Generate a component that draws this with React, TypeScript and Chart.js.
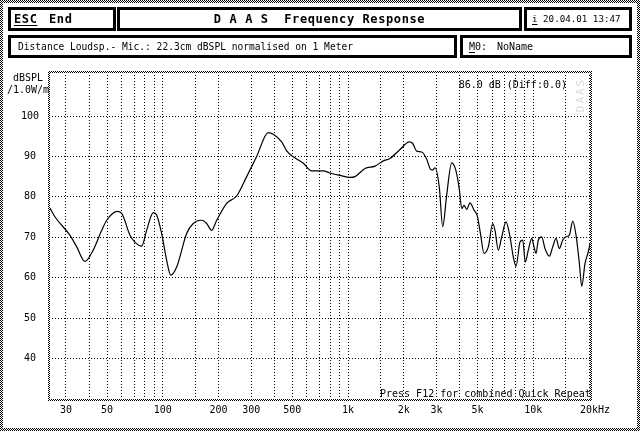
import React, { useEffect, useRef } from 'react';
import { Chart, registerables } from 'chart.js';

Chart.register(...registerables);

// Measured response: frequency (Hz) and level (dBSPL /1.0W/m)
const freqHz = [
  24.6, 26.2, 31.5, 34.3, 38.0, 42.1, 46.8, 49.8, 56.8, 60.0,
  66.5, 70.7, 76.9, 81.8, 88.8, 92.6, 98.6, 104.9, 110.3, 118.8,
  134.5, 146.0, 162.1, 172.5, 183.5, 195.4, 221.2, 250.5, 283.7, 321.2,
  371.0, 394.8, 438.3, 466.5, 506.2, 573.4, 636.6, 735.1, 799, 904.6,
  1025, 1090, 1235, 1398, 1550, 1685, 1908, 2142, 2235, 2349,
  2500, 2660, 2770, 2860, 2948, 3111, 3244, 3410, 3628, 3828,
  3989, 4110, 4229, 4373, 4556, 4788, 4989, 5203, 5421, 5718,
  6040, 6215, 6475, 6756, 7126, 7489, 7803, 8070, 8482, 8772,
  9060, 9404, 9810, 10095, 10350, 10650, 11110, 11570, 12210, 12740,
  13270, 13830, 14430, 15030, 15660, 16340, 17020, 17740, 18270, 19030,
  19830, 20250,
];
const levelDb = [
  77.2, 75.0, 70.5, 67.6, 64.0, 66.8, 71.7, 74.2, 76.4, 75.9,
  70.5, 68.8, 67.8, 71.7, 76.1, 75.5, 70.9, 64.3, 60.6, 62.6,
  70.9, 73.4, 74.2, 73.4, 71.7, 74.2, 78.4, 80.2, 85.0, 90.0,
  95.9, 95.5, 93.6, 91.4, 89.9, 88.3, 86.4, 86.4, 85.9, 85.3,
  84.8, 85.0, 87.0, 87.6, 88.9, 89.5, 91.7, 93.6, 93.2, 91.3,
  91.1, 89.3, 87.0, 86.6, 87.2, 82.3, 72.6, 80.5, 88.4, 86.4,
  81.8, 77.1, 77.9, 76.9, 78.5, 76.7, 75.3, 70.5, 66.0, 67.6,
  73.4, 71.7, 66.8, 70.1, 73.8, 70.1, 65.1, 62.8, 68.8, 69.3,
  63.9, 66.8, 69.7, 67.6, 66.0, 69.3, 70.1, 67.2, 65.3, 67.6,
  69.7, 67.2, 69.3, 70.1, 70.5, 74.0, 70.5, 63.5, 57.8, 63.5,
  66.4, 68.4,
];

const xGridHz = [
  30, 40, 50, 60, 70, 80, 90, 100, 150, 200, 300, 400, 500, 600, 700, 800, 900,
  1000, 1500, 2000, 3000, 4000, 5000, 6000, 7000, 8000, 9000, 10000, 15000, 20000,
];
const xLabelHz = [30, 50, 100, 200, 300, 500, 1000, 2000, 3000, 5000, 10000, 20000];
const xLabelText = ['30', '50', '100', '200', '300', '500', '1k', '2k', '3k', '5k', '10k', '20k'];
const yGridDb = [40, 50, 60, 70, 80, 90, 100];

const MONO = '"DejaVu Sans Mono", "Liberation Mono", monospace';

function makeChecker(): HTMLCanvasElement {
  const c = document.createElement('canvas');
  c.width = 2;
  c.height = 2;
  const g = c.getContext('2d')!;
  g.fillStyle = '#ffffff';
  g.fillRect(0, 0, 2, 2);
  g.fillStyle = '#000000';
  g.fillRect(0, 0, 1, 1);
  g.fillRect(1, 1, 1, 1);
  return c;
}

const framePlugin = {
  id: 'daasFrame',
  beforeDraw(chart: any) {
    const ctx = chart.ctx as CanvasRenderingContext2D;
    const w = chart.width;
    const h = chart.height;
    ctx.save();
    ctx.fillStyle = '#ffffff';
    ctx.fillRect(0, 0, w, h);
    const pat = ctx.createPattern(makeChecker(), 'repeat')!;
    ctx.fillStyle = pat;
    ctx.fillRect(0, 0, w, 3);
    ctx.fillRect(0, h - 3, w, 3);
    ctx.fillRect(0, 0, 3, h);
    ctx.fillRect(w - 3, 0, 3, h);
    ctx.restore();
  },
  afterDraw(chart: any) {
    const ctx = chart.ctx as CanvasRenderingContext2D;
    const { left, right, top, bottom } = chart.chartArea;
    ctx.save();
    const pat = ctx.createPattern(makeChecker(), 'repeat')!;
    ctx.fillStyle = pat;
    ctx.fillRect(left - 1, top - 1, right - left + 2, 2);
    ctx.fillRect(left - 1, bottom - 1, right - left + 2, 2);
    ctx.fillRect(left - 1, top - 1, 2, bottom - top + 2);
    ctx.fillRect(right - 1, top - 1, 2, bottom - top + 2);
    // faint vertical program tag
    ctx.translate(right - 10, top + 23);
    ctx.rotate(-Math.PI / 2);
    ctx.fillStyle = '#dadada';
    ctx.font = '11px ' + MONO;
    (ctx as any).letterSpacing = '2px';
    ctx.textAlign = 'center';
    ctx.textBaseline = 'middle';
    ctx.fillText('DAAS', 0, 0);
    ctx.restore();
  },
};

function Txt(props: {
  x?: number;
  right?: number;
  cy: number;
  bold?: boolean;
  size?: number;
  spacing?: number;
  children: React.ReactNode;
}) {
  const { x, right, cy, bold, size, spacing, children } = props;
  return (
    <div
      style={{
        position: 'absolute',
        left: x,
        right: right,
        top: cy - 7,
        height: 14,
        lineHeight: '14px',
        whiteSpace: 'pre',
        fontFamily: MONO,
        fontSize: size ?? 10,
        fontWeight: bold ? 'bold' : 'normal',
        letterSpacing: spacing ? spacing + 'px' : undefined,
        color: '#000',
      }}
    >
      {children}
    </div>
  );
}

function Box(props: { x: number; y: number; w: number; h: number }) {
  return (
    <div
      style={{
        position: 'absolute',
        left: props.x,
        top: props.y,
        width: props.w,
        height: props.h,
        border: '3px solid #000',
        boxSizing: 'border-box',
        background: '#fff',
      }}
    />
  );
}

const U = (s: string) => (
  <span style={{ textDecoration: 'underline', textUnderlineOffset: '2px' }}>{s}</span>
);

export default function App() {
  const canvasRef = useRef<HTMLCanvasElement | null>(null);

  useEffect(() => {
    document.body.style.margin = '0';
    const canvas = canvasRef.current;
    if (!canvas) return;
    const points = freqHz.map((f, i) => ({ x: f, y: levelDb[i] }));
    const chart = new Chart(canvas, {
      type: 'line',
      data: {
        datasets: [
          {
            data: points,
            borderColor: '#000000',
            borderWidth: 1.2,
            pointRadius: 0,
            fill: false,
            cubicInterpolationMode: 'monotone',
          },
        ],
      },
      plugins: [framePlugin],
      options: {
        animation: false,
        responsive: false,
        devicePixelRatio: 1,
        parsing: false,
        layout: { padding: { left: 0, top: 72, right: 49, bottom: 0 } },
        plugins: { legend: { display: false }, tooltip: { enabled: false } },
        scales: {
          x: {
            type: 'logarithmic',
            min: 24.3,
            max: 20500,
            afterBuildTicks: (s: any) => {
              s.ticks = xGridHz.map((v) => ({ value: v }));
            },
            afterFit: (s: any) => {
              s.height = 31;
            },
            grid: { color: '#000000', lineWidth: 1, drawTicks: false },
            border: { display: false, dash: [1, 2] },
            ticks: {
              autoSkip: false,
              maxRotation: 0,
              minRotation: 0,
              padding: 4,
              color: '#000000',
              font: { family: MONO, size: 10 },
              callback: (v: any) => {
                const i = xLabelHz.indexOf(Number(v));
                return i >= 0 ? xLabelText[i] : '';
              },
            },
          },
          y: {
            type: 'linear',
            min: 29.7,
            max: 110.9,
            afterBuildTicks: (s: any) => {
              s.ticks = yGridDb.map((v) => ({ value: v }));
            },
            afterFit: (s: any) => {
              s.width = 49;
            },
            grid: { color: '#000000', lineWidth: 1, drawTicks: false },
            border: { display: false, dash: [1, 2] },
            ticks: {
              crossAlign: 'center',
              padding: 10,
              color: '#000000',
              font: { family: MONO, size: 10 },
            },
          },
        },
      } as any,
    });
    return () => chart.destroy();
  }, []);

  return (
    <div
      style={{
        position: 'fixed',
        left: 0,
        top: 0,
        width: 640,
        height: 431,
        background: '#fff',
        overflow: 'hidden',
      }}
    >
      <canvas ref={canvasRef} width={640} height={431} style={{ position: 'absolute', left: 0, top: 0 }} />

      <Box x={8} y={7} w={108} h={24} />
      <Box x={117} y={7} w={405} h={24} />
      <Box x={524} y={7} w={108} h={24} />
      <Box x={8} y={35} w={449} h={23} />
      <Box x={460} y={35} w={172} h={23} />

      <Txt x={14} cy={18.5} bold size={12} spacing={0.6}>{U('ESC')}</Txt>
      <Txt x={49} cy={18.5} bold size={12} spacing={0.6}>End</Txt>
      <div
        style={{
          position: 'absolute',
          left: 117,
          width: 405,
          top: 11.5,
          height: 14,
          lineHeight: '14px',
          textAlign: 'center',
          whiteSpace: 'pre',
          fontFamily: MONO,
          fontSize: 12,
          fontWeight: 'bold',
          letterSpacing: '0.6px',
        }}
      >
        D A A S  Frequency Response
      </div>
      <Txt x={532} cy={18.5} size={9.2}>{U('i')} 20.04.01 13:47</Txt>
      <Txt x={18} cy={46.5} size={9.6}>Distance Loudsp.- Mic.: 22.3cm dBSPL normalised on 1 Meter</Txt>
      <Txt x={469} cy={46.5}>{U('M')}0:</Txt>
      <Txt x={497} cy={46.5}>NoName</Txt>

      <Txt x={13} cy={78}>dBSPL</Txt>
      <Txt x={7} cy={90}>/1.0W/m</Txt>
      <Txt right={73} cy={85}>86.0 dB (Diff:0.0)</Txt>
      <Txt x={380} cy={394}>Press F12 for combined Quick Repeat</Txt>
      <Txt x={598} cy={410}>Hz</Txt>
    </div>
  );
}
